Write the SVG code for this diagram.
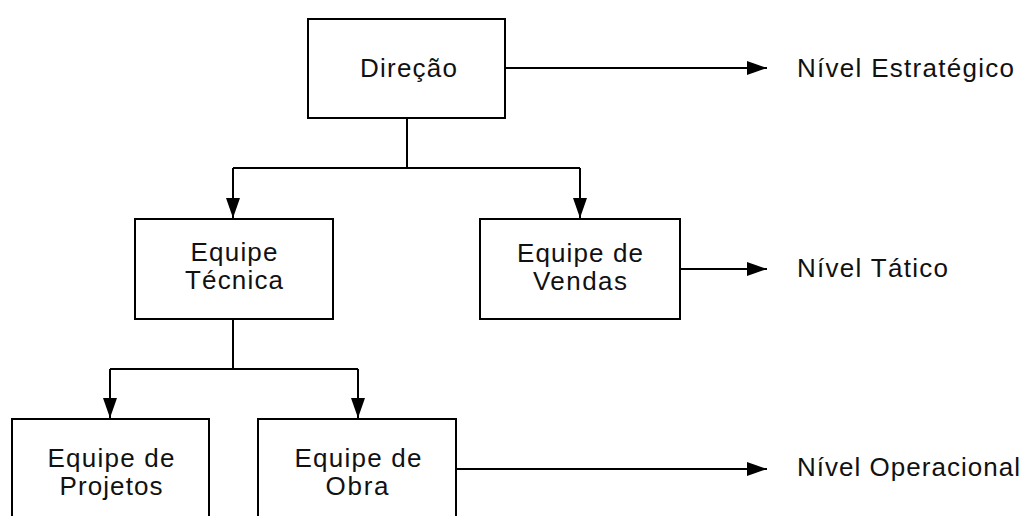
<svg xmlns="http://www.w3.org/2000/svg" width="1026" height="516" viewBox="0 0 1026 516">
<style>
.box{fill:#fff;stroke:#000;stroke-width:2}
.ln{fill:none;stroke:#000;stroke-width:2}
text{font-family:"Liberation Sans",Arial,sans-serif;font-size:26px;fill:#111}
.c{text-anchor:middle}
</style>
<defs>
<marker id="ah" markerUnits="userSpaceOnUse" markerWidth="20" markerHeight="14" refX="20" refY="7" orient="auto">
<path d="M0,0 L20,7 L0,14 z" fill="#000"/>
</marker>
</defs>
<rect width="1026" height="516" fill="#fff"/>
<g id="connectors">
<path class="ln" d="M407,119 V168"/>
<path class="ln" d="M233,168 H580"/>
<path class="ln" d="M233,168 V218" marker-end="url(#ah)"/>
<path class="ln" d="M580,168 V218" marker-end="url(#ah)"/>
<path class="ln" d="M233,319 V369"/>
<path class="ln" d="M110,369 H358"/>
<path class="ln" d="M110,369 V418" marker-end="url(#ah)"/>
<path class="ln" d="M358,369 V418" marker-end="url(#ah)"/>
<path class="ln" d="M505,68 H767" marker-end="url(#ah)"/>
<path class="ln" d="M680,269 H767" marker-end="url(#ah)"/>
<path class="ln" d="M456,469 H767" marker-end="url(#ah)"/>
</g>
<g id="direcao">
<rect class="box" x="308" y="19" width="197" height="99"/>
<text class="c" x="408.5" y="77" textLength="97" lengthAdjust="spacing">Direção</text>
</g>
<g id="equipe-tecnica">
<rect class="box" x="135" y="219" width="198" height="100"/>
<text class="c" x="234" y="261" textLength="87" lengthAdjust="spacing">Equipe</text>
<text class="c" x="234" y="289" textLength="98" lengthAdjust="spacing">Técnica</text>
</g>
<g id="equipe-vendas">
<rect class="box" x="480" y="219" width="200" height="100"/>
<text class="c" x="580" y="262" textLength="126" lengthAdjust="spacing">Equipe de</text>
<text class="c" x="580" y="290" textLength="94" lengthAdjust="spacing">Vendas</text>
</g>
<g id="equipe-projetos">
<rect class="box" x="12" y="419" width="197" height="120"/>
<text class="c" x="111" y="467" textLength="127" lengthAdjust="spacing">Equipe de</text>
<text class="c" x="111" y="495" textLength="103" lengthAdjust="spacing">Projetos</text>
</g>
<g id="equipe-obra">
<rect class="box" x="258" y="419" width="198" height="120"/>
<text class="c" x="358" y="467" textLength="127" lengthAdjust="spacing">Equipe de</text>
<text class="c" x="357" y="495" textLength="63" lengthAdjust="spacing">Obra</text>
</g>
<g id="nivel-estrategico">
<text x="797" y="77" textLength="217" lengthAdjust="spacing">Nível Estratégico</text>
</g>
<g id="nivel-tatico">
<text x="797" y="277" textLength="151" lengthAdjust="spacing">Nível Tático</text>
</g>
<g id="nivel-operacional">
<text x="797" y="476" textLength="223" lengthAdjust="spacing">Nível Operacional</text>
</g>
</svg>
